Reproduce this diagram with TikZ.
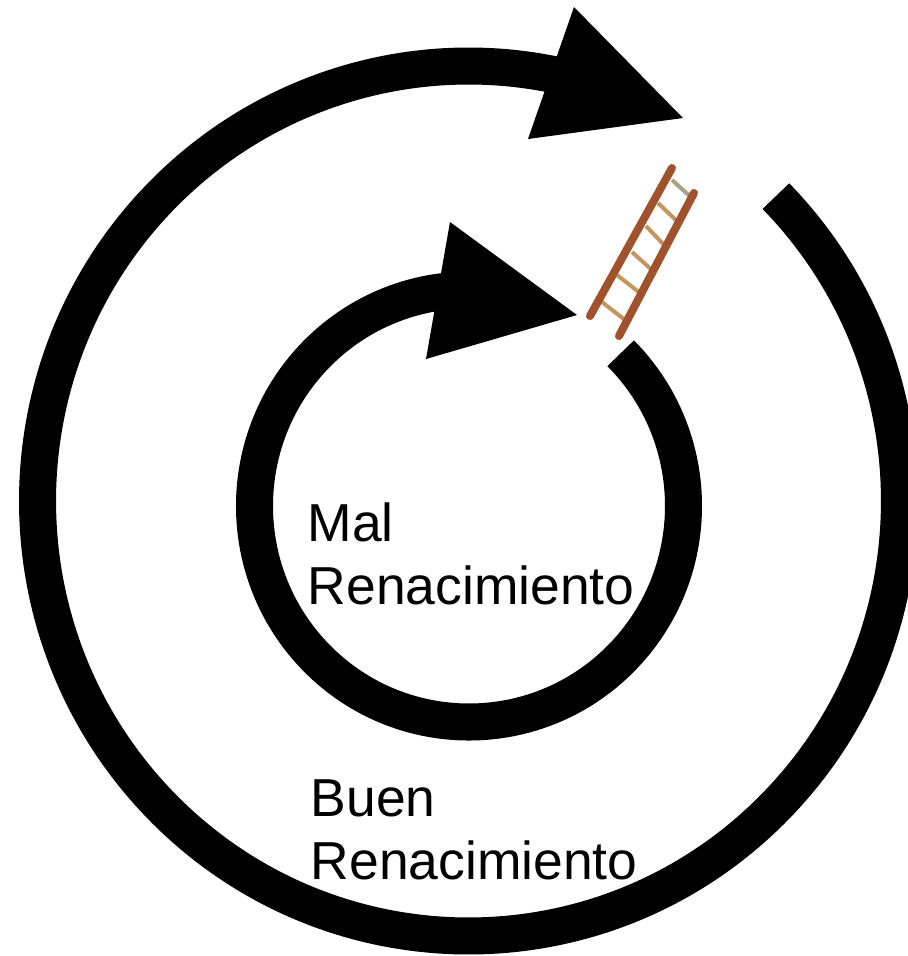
\documentclass[tikz,border=0pt]{standalone}
\usepackage{fontspec}
\setmainfont{Liberation Sans}
\usetikzlibrary{calc}
\definecolor{railbrown}{RGB}{160,82,45}
\definecolor{rungtan}{RGB}{195,150,95}
\definecolor{rungtop}{RGB}{170,160,130}
\begin{document}
\begin{tikzpicture}[x=0.01cm, y=-0.01cm,
ring/.style={line width=0.37cm, black},
rail/.style={line width=0.08cm, railbrown, line cap=round},
rung/.style={line width=0.04cm, rungtan},
label text/.style={anchor=base west, align=left, inner sep=0pt, font=\fontsize{15.2}{17.9}\selectfont}]

    \useasboundingbox (0,0) rectangle (908,956);

    % outer ring
    \coordinate (outerc) at (468.5,501);
    \draw[ring] ([shift={(outerc)}]-44.5:431 and 435) arc[start angle=-44.5, end angle=284, x radius=431, y radius=435];
    \fill (574,7) -- (683,118) -- (528,139) -- cycle;

    % inner ring
    \coordinate (innerc) at (469,506);
    \draw[ring] ([shift={(innerc)}]-45:214.5 and 216) arc[start angle=-45, end angle=275, x radius=214.5, y radius=216];
    \fill (450,222) -- (577,315) -- (426,359) -- cycle;

    % ladder
    \draw[rung, rungtop] (672,180) -- (692,198);
    \foreach \xa/\ya/\xb/\yb in {658/203/678/222, 646/226/666/247, 632/252/652/270, 617/275/640/293, 602/302/625/320}
        \draw[rung] (\xa,\ya) -- (\xb,\yb);
    \draw[rail] (672,168) -- (590,316);
    \draw[rail] (694,193) -- (619,336);

    \node[label text] (mal) at (307,604) {Mal\\Renacimiento};
    \node[label text] (buen) at (310,879) {Buen\\Renacimiento};

\end{tikzpicture}
\end{document}
